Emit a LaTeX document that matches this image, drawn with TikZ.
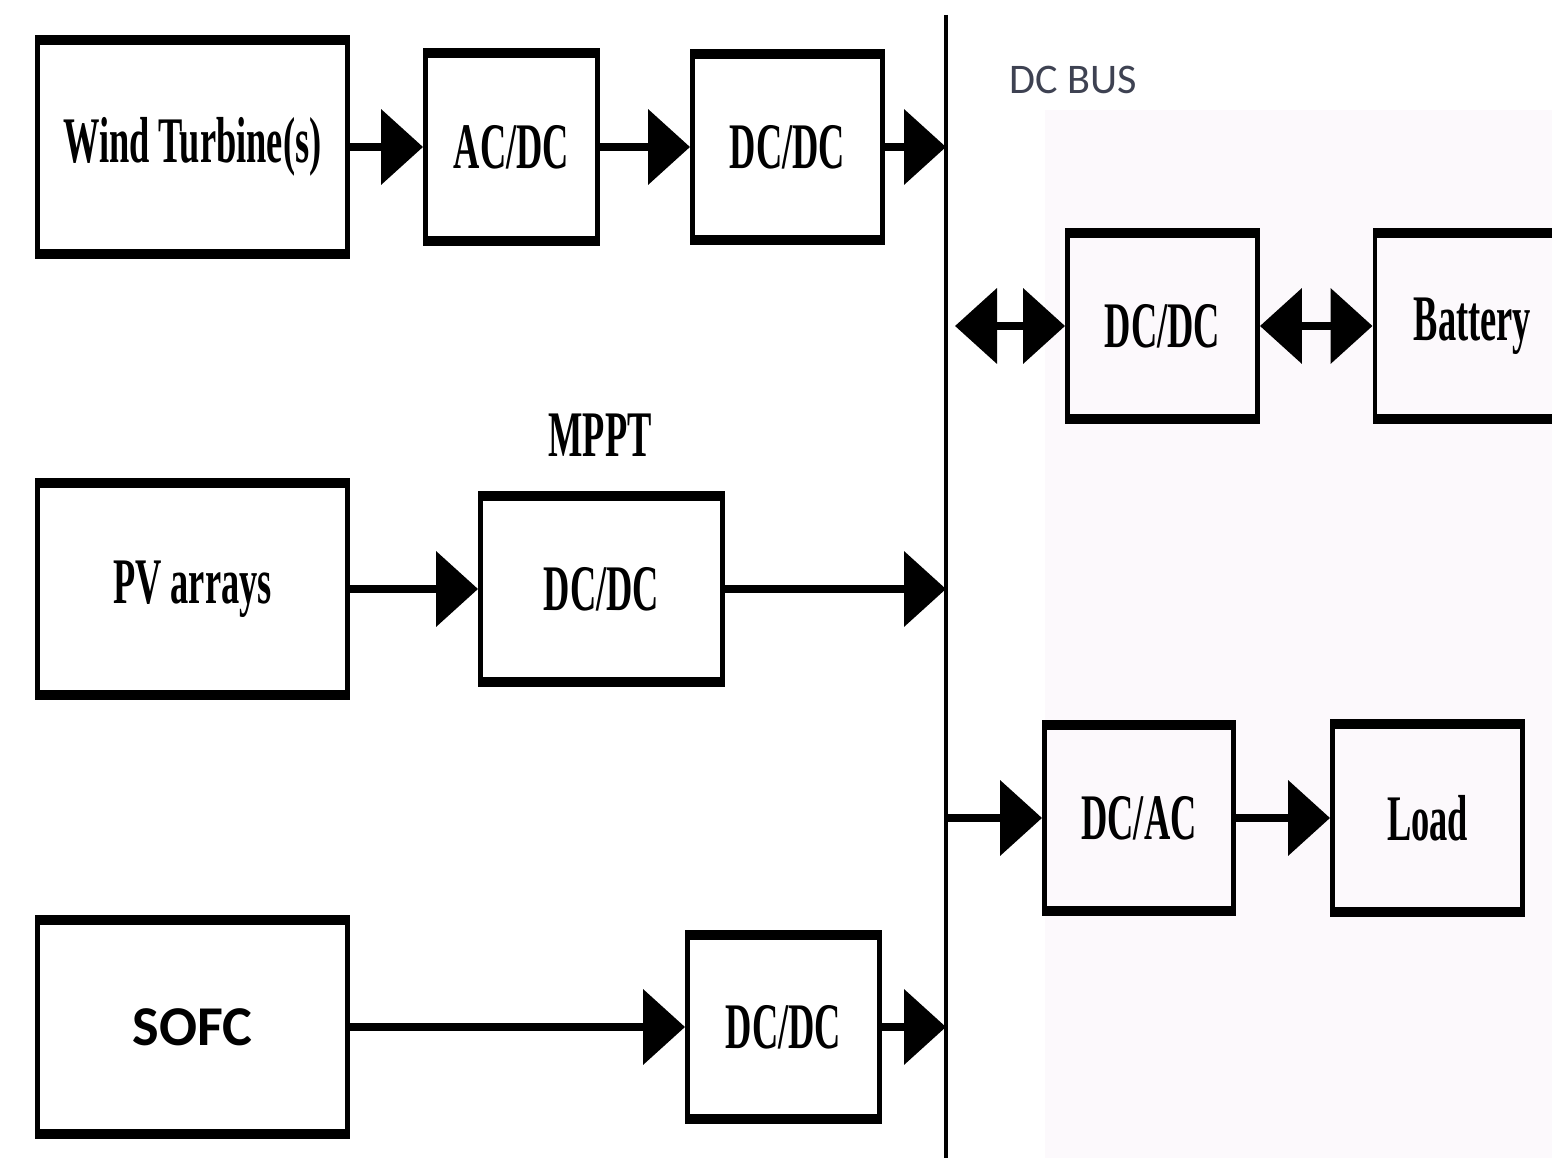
\documentclass[tikz,border=0pt]{standalone}
\usepackage{fontspec}
\usetikzlibrary{arrows.meta, positioning}
\newfontfamily\blkfont[FakeStretch=0.56]{Liberation Serif}
\newfontfamily\busfont{Carlito}
\definecolor{litepink}{RGB}{252,249,252}
\definecolor{busgray}{RGB}{62,66,82}
\tikzstyle{blk}=[draw, line width=1.4pt, inner sep=0pt, font=\blkfont\bfseries\fontsize{18.5}{20}\selectfont,
  path picture={\draw[line width=4.3pt] (path picture bounding box.north west) -- (path picture bounding box.north east)
    (path picture bounding box.south west) -- (path picture bounding box.south east);}]
\tikzstyle{flow}=[line width=2.3pt, -{Triangle[length=0.42cm, width=0.74cm]}]
\tikzstyle{biflow}=[line width=2.3pt, {Triangle[length=0.42cm, width=0.74cm]}-{Triangle[length=0.42cm, width=0.74cm]}]

\begin{document}
\begin{tikzpicture}
    \useasboundingbox (0,0) rectangle (15.52,-11.58);
    \fill[litepink] (10.45,-1.1) rectangle (15.52,-11.58);
    % DC bus
    \coordinate (busT) at (9.46,-0.15);
    \coordinate (busB) at (9.46,-11.58);
    \draw[line width=1.2pt] (busT) -- (busB);
    \node[font=\busfont\fontsize{12}{14}\selectfont, text=busgray] (buslbl) at (10.73,-0.8) {DC BUS};
    % wind branch
    \node[blk, minimum width=3.10cm, minimum height=2.20cm] (wind) at (1.925,-1.47) {Wind Turbine(s)};
    \node[blk, minimum width=1.72cm, minimum height=1.93cm] (acdc) at (5.115,-1.47) {AC/DC};
    \node[blk, minimum width=1.90cm, minimum height=1.91cm] (dcdcW) at (7.875,-1.47) {DC/DC};
    \draw[flow] (wind) -- (acdc);
    \draw[flow] (acdc) -- (dcdcW);
    \draw[flow] (dcdcW) -- (dcdcW -| busT);
    % battery branch
    \node[blk, minimum width=1.90cm, minimum height=1.92cm] (dcdcB) at (11.625,-3.26) {DC/DC};
    \node[blk, minimum width=1.95cm, minimum height=1.92cm] (batt) at (14.725,-3.26) {Battery};
    \draw[biflow] ([xshift=0.09cm]dcdcB -| busT) -- (dcdcB);
    \draw[biflow] (dcdcB) -- (batt);
    % PV branch
    \node[font=\blkfont\bfseries\fontsize{18.5}{20}\selectfont] (mppt) at (6.0,-4.35) {MPPT};
    \node[blk, minimum width=3.10cm, minimum height=2.17cm] (pv) at (1.925,-5.89) {PV arrays};
    \node[blk, minimum width=2.42cm, minimum height=1.92cm] (dcdcP) at (6.015,-5.89) {DC/DC};
    \draw[flow] (pv) -- (dcdcP);
    \draw[flow] (dcdcP) -- (dcdcP -| busT);
    % load branch
    \node[blk, minimum width=1.89cm, minimum height=1.92cm] (dcac) at (11.39,-8.18) {DC/AC};
    \node[blk, minimum width=1.90cm, minimum height=1.93cm] (load) at (14.275,-8.18) {Load};
    \draw[flow] (dcac -| busT) -- (dcac);
    \draw[flow] (dcac) -- (load);
    % SOFC branch
    \node[blk, font=\busfont\bfseries\fontsize{16}{18}\selectfont, minimum width=3.10cm, minimum height=2.20cm] (sofc) at (1.925,-10.27) {SOFC};
    \node[blk, minimum width=1.92cm, minimum height=1.90cm] (dcdcS) at (7.835,-10.27) {DC/DC};
    \draw[flow] (sofc) -- (dcdcS);
    \draw[flow] (dcdcS) -- (dcdcS -| busT);
\end{tikzpicture}
\end{document}
